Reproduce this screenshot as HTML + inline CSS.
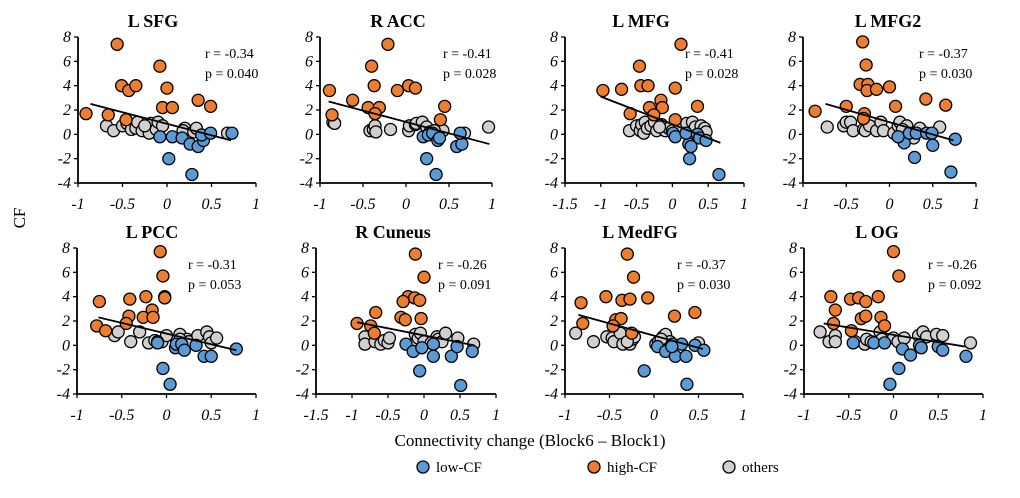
<!DOCTYPE html>
<html><head><meta charset="utf-8"><style>
body{margin:0;background:#fff;}
svg{display:block;font-family:"Liberation Serif",serif;}
</style></head><body>
<svg id="chart" width="1020" height="498" viewBox="0 0 1020 498">
<text x="25" y="218" transform="rotate(-90 25 218)" text-anchor="middle" font-size="17">CF</text>
<text x="530" y="446" text-anchor="middle" font-size="17">Connectivity change (Block6 – Block1)</text>
<g>
<circle cx="423" cy="467" r="6" fill="#5b9bd5" stroke="#000" stroke-width="1.3"/>
<text x="436" y="472" font-size="15">low-CF</text>
<circle cx="594" cy="467" r="6" fill="#ed7d31" stroke="#000" stroke-width="1.3"/>
<text x="607" y="472" font-size="15">high-CF</text>
<circle cx="729" cy="467" r="6" fill="#d0d0d0" stroke="#000" stroke-width="1.3"/>
<text x="742" y="472" font-size="15">others</text>
</g>
</svg>
<script>
const panelTitles=["L SFG","R ACC","L MFG","L MFG2","L PCC","R Cuneus","L MedFG","L OG"];
const rValues=["-0.34","-0.41","-0.41","-0.37","-0.31","-0.26","-0.37","-0.26"];
const pValues=["0.040","0.028","0.028","0.030","0.053","0.091","0.030","0.092"];
const xMins=[-1,-1,-1.5,-1,-1,-1.5,-1,-1];
const xTickSets=[[-1,-0.5,0,0.5,1],[-1,-0.5,0,0.5,1],[-1.5,-1,-0.5,0,0.5,1],[-1,-0.5,0,0.5,1],[-1,-0.5,0,0.5,1],[-1.5,-1,-0.5,0,0.5,1],[-1,-0.5,0,0.5,1],[-1,-0.5,0,0.5,1]];
const yTicks=[-4,-2,0,2,4,6,8];
const fitLines=[[-0.86,2.5,0.72,-0.5],[-0.9,2.7,0.97,-0.8],[-1.0,3.1,0.67,-0.7],[-0.74,2.5,0.74,-0.5],[-0.76,2.3,0.78,-0.4],[-0.93,1.9,0.7,0.0],[-0.85,2.5,0.55,-0.3],[-0.78,1.8,0.8,-0.1]];
const grayPts=[
[[-0.68,0.7],[-0.6,0.3],[-0.5,0.7],[-0.45,0.9],[-0.4,0.4],[-0.35,0.5],[-0.33,1.0],[-0.28,0.3],[-0.2,0.1],[-0.18,0.9],[-0.12,0.4],[-0.1,1.0],[-0.05,0.7],[0.2,0.5],[0.18,0.3],[0.3,0.2],[0.33,0.5],[0.68,0.1],[-0.25,0.7]],
[[-0.85,1.0],[-0.83,0.9],[-0.42,0.3],[-0.38,0.4],[-0.36,0.7],[-0.35,0.2],[-0.18,0.4],[0.03,0.3],[0.04,0.7],[0.11,0.8],[0.12,0.9],[0.19,1.0],[0.24,0.6],[0.28,0.2],[0.43,0.3],[0.68,0.1],[0.96,0.6],[0.33,0.3]],
[[-0.6,0.3],[-0.5,0.7],[-0.45,0.3],[-0.43,0.8],[-0.4,0.1],[-0.38,1.0],[-0.35,0.5],[-0.3,0.7],[-0.25,1.0],[-0.22,0.3],[-0.15,0.8],[-0.1,0.3],[-0.05,0.5],[0.0,0.3],[0.1,0.5],[0.2,0.9],[0.28,1.0],[0.32,0.6],[0.4,0.7],[0.45,0.5],[0.47,0.2],[-0.18,0.6]],
[[-0.72,0.6],[-0.53,0.7],[-0.5,1.0],[-0.45,1.0],[-0.42,0.3],[-0.3,0.4],[-0.28,0.3],[-0.23,0.7],[-0.15,0.3],[-0.1,1.0],[-0.07,0.3],[0.05,0.1],[0.1,0.7],[0.12,1.0],[0.2,0.7],[0.28,-0.3],[0.35,0.5],[0.58,0.6],[0.15,0.4]],
[[-0.58,0.8],[-0.54,1.1],[-0.4,0.3],[-0.3,1.1],[-0.2,0.2],[-0.13,0.4],[-0.05,0.3],[0.0,0.8],[0.15,0.9],[0.23,0.5],[0.25,0.3],[0.35,0.8],[0.45,1.1],[0.48,0.7],[0.5,0.2],[0.56,0.6],[0.15,0.5],[-0.1,0.3]],
[[-0.82,0.7],[-0.82,0.1],[-0.68,0.3],[-0.6,0.1],[-0.55,0.4],[-0.5,0.2],[-0.48,0.6],[-0.12,0.9],[-0.1,0.3],[-0.08,0.6],[-0.05,1.0],[0.0,0.3],[0.18,0.7],[0.2,0.5],[0.25,0.3],[0.3,1.0],[0.47,0.6],[0.69,0.1],[0.1,0.2]],
[[-0.88,1.0],[-0.68,0.3],[-0.53,0.7],[-0.47,0.6],[-0.45,0.3],[-0.38,1.0],[-0.35,0.1],[-0.27,0.1],[-0.24,0.5],[-0.22,0.7],[0.02,0.1],[0.05,0.3],[0.1,0.7],[0.13,0.9],[0.18,0.3],[0.5,0.2],[-0.3,0.3],[0.08,0.5]],
[[-0.82,1.1],[-0.72,0.3],[-0.65,0.8],[-0.65,0.3],[-0.43,0.3],[-0.32,0.1],[-0.3,0.5],[-0.25,0.3],[-0.15,1.1],[-0.13,0.5],[0.0,0.6],[0.05,0.3],[0.12,0.6],[0.28,0.8],[0.33,1.1],[0.37,0.7],[0.48,0.9],[0.55,0.8],[0.86,0.2]]];
const orangePts=[
[[-0.56,7.4],[-0.08,5.6],[-0.51,4.0],[-0.43,3.6],[-0.35,4.0],[0,3.8],[-0.91,1.7],[-0.66,1.6],[-0.46,1.2],[-0.05,2.2],[0.06,2.2],[0.35,2.8],[0.49,2.3]],
[[-0.21,7.4],[-0.4,5.6],[-0.37,4.0],[-0.1,3.6],[0.03,4.0],[0.11,3.8],[-0.89,3.6],[-0.86,1.6],[-0.62,2.8],[-0.44,2.2],[-0.31,2.2],[-0.36,1.7],[0.45,2.3],[0.4,1.2]],
[[0.12,7.4],[-0.46,5.6],[-0.44,4.0],[-0.34,4.0],[-0.97,3.6],[-0.71,3.7],[0.04,3.8],[-0.16,2.8],[-0.14,2.2],[-0.32,2.2],[-0.59,1.7],[-0.26,1.6],[0.04,1.2],[0.35,2.3]],
[[-0.31,7.6],[-0.27,5.7],[-0.34,4.1],[-0.25,4.1],[-0.26,3.6],[-0.15,3.7],[0,3.9],[-0.86,1.9],[-0.5,2.3],[-0.29,1.7],[-0.3,1.3],[0.07,2.3],[0.42,2.9],[0.65,2.4]],
[[-0.07,7.7],[-0.04,5.7],[-0.02,4.0],[-0.02,3.9],[-0.75,3.6],[-0.41,3.8],[-0.23,4.0],[-0.42,2.4],[-0.16,2.9],[-0.26,2.3],[-0.15,2.3],[-0.45,1.8],[-0.78,1.6],[-0.68,1.2]],
[[-0.12,7.5],[0,5.6],[-0.22,4.0],[-0.13,3.9],[-0.06,3.7],[-0.29,3.6],[-0.67,2.7],[-0.32,2.3],[-0.26,2.1],[-0.04,2.2],[-0.93,1.8],[-0.74,1.6],[-0.69,1.0]],
[[-0.3,7.5],[-0.23,5.6],[-0.54,4.0],[-0.36,3.7],[-0.27,3.8],[-0.07,3.9],[-0.82,3.5],[-0.8,1.8],[-0.43,2.1],[-0.37,2.2],[-0.46,1.6],[-0.25,1.0],[0.23,2.4],[0.46,2.7]],
[[0,7.7],[0.06,5.7],[-0.7,4.0],[-0.17,4.0],[-0.48,3.8],[-0.39,3.9],[-0.31,3.6],[-0.65,2.9],[-0.36,2.2],[-0.31,2.4],[-0.14,2.3],[-0.67,1.8],[-0.1,1.6],[-0.47,1.2]]];
const bluePts=[
[[-0.08,-0.2],[0.06,-0.2],[0.02,-2],[0.17,-0.3],[0.26,-0.8],[0.35,-1],[0.41,-0.5],[0.39,-0.05],[0.49,0.1],[0.28,-3.3],[0.73,0.1]],
[[0.24,-2],[0.35,-3.3],[0.2,-0.2],[0.26,-0.05],[0.31,0.1],[0.37,-0.5],[0.39,-0.3],[0.59,-1],[0.65,-0.8],[0.63,0.1]],
[[0.65,-3.3],[0.24,-2],[0.23,-0.8],[0.26,-1],[0.01,0.1],[0.04,-0.2],[0.19,0.1],[0.35,0],[0.38,-0.3],[0.47,-0.5]],
[[0.71,-3.1],[0.29,-1.9],[0.5,-0.9],[0.17,-0.7],[0.1,-0.2],[0.23,0.1],[0.31,0.1],[0.43,0.1],[0.49,0.1],[0.76,-0.4]],
[[0.04,-3.2],[-0.04,-1.9],[-0.1,0.2],[0.1,-0.2],[0.11,0.1],[0.17,0.1],[0.2,-0.4],[0.33,0],[0.42,-0.9],[0.5,-0.9],[0.78,-0.3]],
[[0.51,-3.3],[-0.06,-2.1],[-0.25,0.1],[-0.15,-0.5],[-0.03,-0.2],[0.13,0.1],[0.13,-0.9],[0.38,-0.9],[0.46,-0.1],[0.67,-0.5]],
[[0.37,-3.2],[-0.11,-2.1],[0.04,-0.1],[0.13,-0.5],[0.21,0.1],[0.24,-0.9],[0.31,0.1],[0.36,-0.9],[0.46,0],[0.56,-0.4],[0.2,-0.1]],
[[-0.04,-3.2],[0.06,-1.9],[-0.45,0.2],[-0.22,0.2],[-0.1,0.2],[0.1,-0.3],[0.19,-0.8],[0.29,0],[0.31,-0.2],[0.5,-0.1],[0.55,-0.4],[0.81,-0.9]]];

const layout=[
{l:78,r:256,t:37,b:183,tx:153,sx:205},{l:320,r:492,t:37,b:183,tx:398,sx:443},
{l:565,r:744,t:37,b:183,tx:641,sx:685},{l:803,r:976,t:37,b:183,tx:888,sx:919},
{l:77,r:256,t:248,b:394,tx:152,sx:188},{l:316,r:496,t:248,b:394,tx:393,sx:438},
{l:565,r:743,t:248,b:394,tx:640,sx:677},{l:804,r:983,t:248,b:394,tx:877,sx:928}];
const NS="http://www.w3.org/2000/svg";
const svg=document.getElementById('chart');
function mk(tag,attrs,parent){const e=document.createElementNS(NS,tag);for(const k in attrs)e.setAttribute(k,attrs[k]);parent.appendChild(e);return e;}
panelTitles.forEach((title,i)=>{
  const L=layout[i];
  const g=mk('g',{},svg);
  
  
  const xMin=xMins[i],xMax=1;
  const sx=v=>L.l+(v-xMin)/(xMax-xMin)*(L.r-L.l);
  const sy=v=>L.b-(v+4)/12*(L.b-L.t);
  const t=mk('text',{x:L.tx,y:L.t-10,'text-anchor':'middle','font-size':18,'font-weight':'bold'},g);
  t.textContent=title;
  
  
  const ax=mk('path',{d:`M${L.l},${L.t} V${L.b} H${L.r}`,stroke:'#000','stroke-width':1.8,fill:'none'},g);
  
  
  yTicks.forEach(v=>{
    mk('line',{x1:L.l-4,x2:L.l,y1:sy(v),y2:sy(v),stroke:'#000','stroke-width':1.3},g);
    const tl=mk('text',{x:L.l-7,y:sy(v)+5,'text-anchor':'end','font-size':16,'font-style':'italic'},g);
    tl.textContent=v;
    
    
  });
  xTickSets[i].forEach(v=>{
    mk('line',{x1:sx(v),x2:sx(v),y1:L.b,y2:L.b+4,stroke:'#000','stroke-width':1.3},g);
    const tl=mk('text',{x:sx(v),y:L.b+26,'text-anchor':'middle','font-size':16,'font-style':'italic'},g);
    tl.textContent=v;
    
    
  });
  const series=[[grayPts[i],'#d0d0d0','others-point'],[orangePts[i],'#ed7d31','high-cf-point'],[bluePts[i],'#5b9bd5','low-cf-point']];
  series.forEach(([pts,col,nm])=>{
    pts.forEach(p=>{
      const c=mk('circle',{cx:sx(p[0]),cy:sy(p[1]),r:6,fill:col,stroke:'#000','stroke-width':1.3},g);
      
      
    });
  });
  const f=fitLines[i];
  const ln=mk('line',{x1:sx(f[0]),y1:sy(f[1]),x2:sx(f[2]),y2:sy(f[3]),stroke:'#000','stroke-width':1.8},g);
  
  
  const r=mk('text',{x:L.sx,y:L.t+21,'font-size':14},g);
  r.textContent='r = '+rValues[i];
  
  
  const p=mk('text',{x:L.sx,y:L.t+41,'font-size':14,'xml:space':'preserve'},g);
  p.textContent='p  = '+pValues[i];
  
  
});
</script>
</body></html>
